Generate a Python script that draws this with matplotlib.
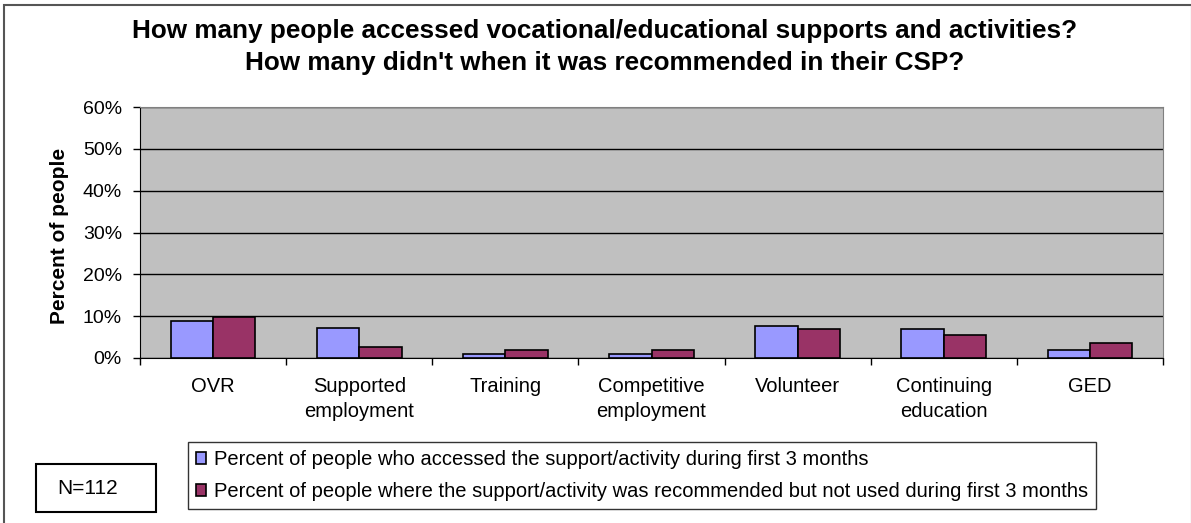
import matplotlib
matplotlib.use("Agg")
import matplotlib.pyplot as plt
import numpy as np
from matplotlib.patches import Rectangle
from matplotlib.ticker import FixedLocator, PercentFormatter

plt.rcParams['font.family'] = ['Liberation Sans', 'DejaVu Sans']

categories = ["OVR", "Supported\nemployment", "Training", "Competitive\nemployment",
              "Volunteer", "Continuing\neducation", "GED"]
accessed = [8.9, 7.1, 0.9, 0.9, 7.7, 7.0, 1.8]
recommended_not_used = [9.8, 2.7, 1.8, 1.8, 7.0, 5.4, 3.6]
series_labels = [
    "Percent of people who accessed the support/activity during first 3 months",
    "Percent of people where the support/activity was recommended but not used during first 3 months",
]
title = ("How many people accessed vocational/educational supports and activities?\n"
         "How many didn't when it was recommended in their CSP?")

W, H = 1191, 523
fig = plt.figure(figsize=(W / 100, H / 100), dpi=100)


def fx(px):
    return px / W


def fy(py):
    return 1 - py / H


# outer chart border (right and bottom edges run off the canvas)
fig.patches.append(Rectangle((fx(4), fy(526)), fx(1192) - fx(4), fy(5) - fy(526),
                             transform=fig.transFigure, fill=False,
                             edgecolor="#555555", linewidth=1.5))

ax = fig.add_axes([fx(140), fy(358), fx(1163) - fx(140), fy(107) - fy(358)])
ax.set_facecolor("#C0C0C0")

x = np.arange(len(categories))
w = 0.29
ax.bar(x - w / 2, accessed, w, color="#9999FF", edgecolor="black", linewidth=1.2,
       label=series_labels[0], zorder=3)
ax.bar(x + w / 2, recommended_not_used, w, color="#993366", edgecolor="black", linewidth=1.2,
       label=series_labels[1], zorder=3)

ax.set_xlim(-0.5, len(categories) - 0.5)
ax.set_ylim(0, 60)
ax.yaxis.set_major_locator(FixedLocator(np.arange(0, 61, 10)))
ax.yaxis.set_major_formatter(PercentFormatter(decimals=0))
ax.yaxis.grid(True, color="black", linewidth=1, zorder=1)
ax.set_axisbelow(True)

# tick marks sit between categories, labels sit under each category
ax.xaxis.set_major_locator(FixedLocator(np.arange(-0.5, len(categories), 1)))
ax.xaxis.set_major_formatter(plt.NullFormatter())
ax.xaxis.set_minor_locator(FixedLocator(x))
ax.set_xticklabels(categories, minor=True, fontsize=14.5, linespacing=1.35)
ax.tick_params(axis="x", which="major", direction="out", length=5, width=1)
ax.tick_params(axis="x", which="minor", length=0, pad=14)
ax.tick_params(axis="y", direction="out", length=5, width=1, pad=8, labelsize=14)

for side in ("top", "right"):
    ax.spines[side].set_color("#808080")
ax.spines["left"].set_color("black")
ax.spines["bottom"].set_color("black")

ax.set_ylabel("Percent of people", fontsize=15, fontweight="bold")
ax.yaxis.set_label_coords(fx(69), fy(236), transform=fig.transFigure)

fig.text(fx(605), fy(47), title, ha="center", va="center", fontsize=18.8,
         fontweight="bold", linespacing=1.4)

leg = fig.legend(loc="upper left", bbox_to_anchor=(fx(188), fy(442)),
                 fontsize=14.5, frameon=True, fancybox=False, edgecolor="black",
                 handlelength=0.5, handleheight=0.5, handletextpad=0.4,
                 labelspacing=0.65, borderpad=0.4, borderaxespad=0)
leg.get_frame().set_linewidth(1)

fig.patches.append(Rectangle((fx(36), fy(512)), fx(156) - fx(36), fy(464) - fy(512),
                             transform=fig.transFigure, fill=False,
                             edgecolor="black", linewidth=1.5))
fig.text(fx(88), fy(489), "N=112", ha="center", va="center", fontsize=15)

fig.savefig("out.png", dpi=100)
